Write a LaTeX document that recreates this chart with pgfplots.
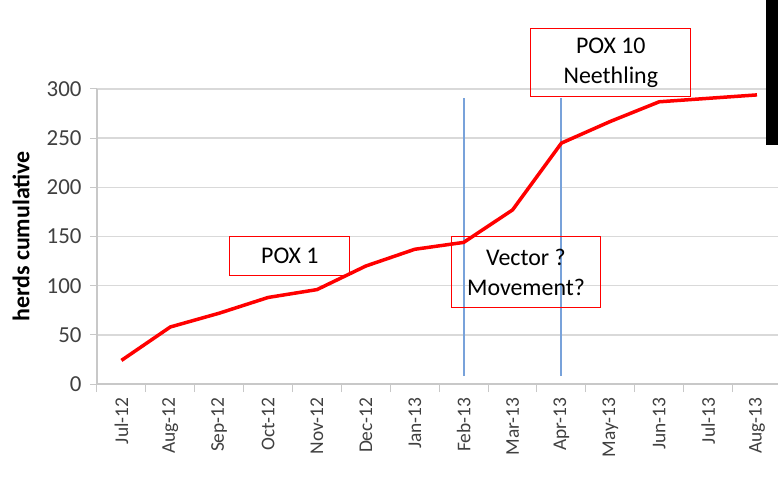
\documentclass[border=0pt]{standalone}
\usepackage{pgfplots}
\pgfplotsset{compat=1.18}
\usepackage{fontspec}
\setmainfont{Carlito}
\definecolor{gridgray}{RGB}{217,217,217}
\definecolor{axgray}{RGB}{200,200,200}
\definecolor{ticktext}{RGB}{64,64,64}
\definecolor{vblue}{RGB}{120,162,218}
\begin{document}
\begin{tikzpicture}
\begin{axis}[
  scale only axis, width=681bp, height=295bp,
  xmin=-0.5, xmax=13.43, ymin=0, ymax=300,
  axis x line*=bottom, axis y line*=left,
  axis line style={axgray, line width=1.2bp},
  /pgf/number format/assume math mode=true,
  xtick={0,...,13},
  xticklabels={Jul-12,Aug-12,Sep-12,Oct-12,Nov-12,Dec-12,Jan-13,Feb-13,Mar-13,Apr-13,May-13,Jun-13,Jul-13,Aug-13},
  minor xtick={-0.5,0.5,...,12.5},
  x tick label style={rotate=90, anchor=east, font=\fontsize{19.5}{23}\selectfont, text=ticktext, xshift=-3bp},
  ytick={0,50,...,300},
  y tick label style={font=\fontsize{23}{27}\selectfont, text=ticktext, xshift=-5bp},
  ymajorgrids, major grid style={gridgray, line width=1.5bp},
  tick align=outside,
  major tick length=7bp, minor tick length=8bp,
  tick style={axgray, line width=1bp},
  major x tick style={draw=none},
  clip=false,
]
\coordinate (O) at (rel axis cs:0,0);
\addplot[draw=vblue, line width=2bp, forget plot] coordinates {(7,8) (7,291)};
\addplot[draw=vblue, line width=2bp, forget plot] coordinates {(9,8) (9,291)};
\addplot[red, line width=3.5bp, line join=round] coordinates {
(0,24) (1,58) (2,72) (3,88) (4,96) (5,120) (6,137) (7,144) (8,177) (9,245) (10,267) (11,287) (12,290.5) (13,294)};
\draw[red, line width=1bp] (axis cs:2.22,149.5) rectangle (axis cs:4.67,110.8);
\node[font=\fontsize{24}{30}\selectfont, align=center] at (axis cs:3.445,130.2) {POX 1};
\draw[red, line width=1bp] (axis cs:6.76,149.5) rectangle (axis cs:9.79,78.3);
\node[font=\fontsize{24}{30}\selectfont, align=center] at (axis cs:8.275,113.9) {Vector ?\\Movement?};
\draw[red, line width=1bp] (axis cs:8.375,362) rectangle (axis cs:11.65,291.9);
\node[font=\fontsize{24}{30}\selectfont, align=center] at (axis cs:10.01,327) {POX 10\\Neethling};
\fill[black] (axis cs:13.18,391) rectangle (axis cs:13.43,243);
\end{axis}
\node[rotate=90, font=\fontsize{24}{28}\selectfont\bfseries] at ([xshift=-76bp, yshift=147.5bp]O) {herds cumulative};
\pgfresetboundingbox
\path ([xshift=-97bp,yshift=-97bp]O) rectangle ([xshift=681bp,yshift=384bp]O);
\end{tikzpicture}
\end{document}
